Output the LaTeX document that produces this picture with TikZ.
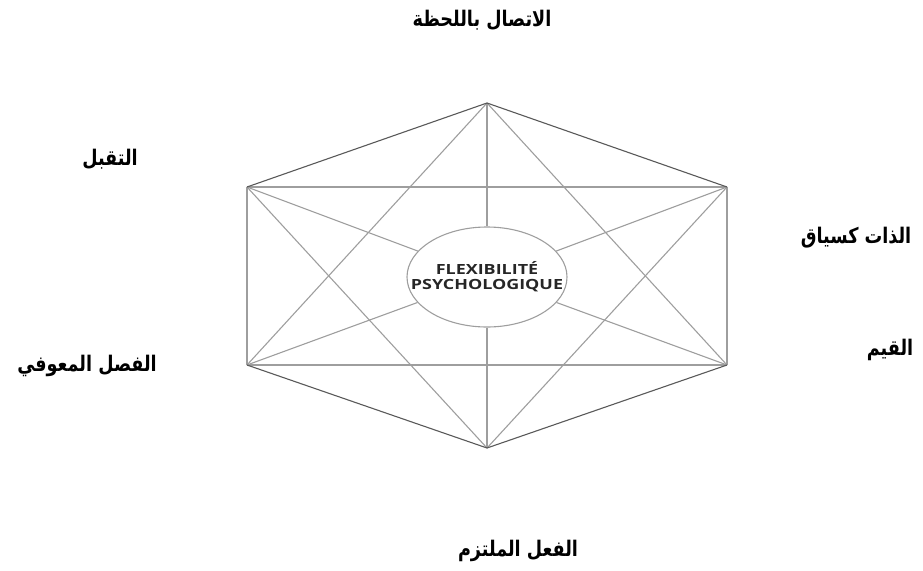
\documentclass[tikz,border=0pt]{standalone}
\usepackage{fontspec}
\usetikzlibrary{shapes.geometric}
\TeXXeTstate=1
\newfontfamily\arabicfont[Script=Arabic,FakeStretch=0.82]{DejaVu Sans}
\newfontfamily\latinsans[FakeStretch=1.28]{Open Sans}
\definecolor{lineg}{gray}{0.62}
\definecolor{edgeg}{gray}{0.35}
\newcommand{\zb}[1]{\makebox[0pt][c]{#1}}
\tikzset{
  inner/.style={draw=lineg, line width=1.1pt},
  outer/.style={draw=edgeg, line width=1.1pt},
  lbl/.style={font=\arabicfont\bfseries\fontsize{21.5}{24}\selectfont, text=black, inner sep=0pt},
  core/.style={ellipse, draw=lineg, line width=1.1pt, minimum width=160pt, minimum height=100pt, inner sep=0pt, align=center, font=\latinsans\bfseries\fontsize{14}{15}\selectfont, text=black!85}
}
\begin{document}
\begin{tikzpicture}[x=1pt,y=-1pt]
\useasboundingbox (0,0) rectangle (923,570);
\coordinate (T) at (487,103);
\coordinate (UL) at (247,187);
\coordinate (UR) at (727,187);
\coordinate (LL) at (247,365);
\coordinate (LR) at (727,365);
\coordinate (B) at (487,448);
\node[core] (e) at (487,277) {\zb{FLEXIBILITÉ}\\\zb{PSYCHOLOGIQUE}};
% rectangle
\draw[inner] (UL) -- (UR);
\draw[inner] (LL) -- (LR);
\draw[inner] (UL) -- (LL);
\draw[inner] (UR) -- (LR);
% triangles
\draw[inner] (T) -- (LL);
\draw[inner] (T) -- (LR);
\draw[inner] (B) -- (UL);
\draw[inner] (B) -- (UR);
% spokes
\draw[inner] (T) -- (e);
\draw[inner] (B) -- (e);
\draw[inner] (UL) -- (e);
\draw[inner] (UR) -- (e);
\draw[inner] (LL) -- (e);
\draw[inner] (LR) -- (e);
% hexagon outer edges
\draw[outer] (T) -- (UL);
\draw[outer] (T) -- (UR);
\draw[outer] (B) -- (LL);
\draw[outer] (B) -- (LR);
% labels
\node[lbl] (l1) at (482,20) {\beginR الاتصال باللحظة\endR};
\node[lbl] (l2) at (110,159) {\beginR التقبل\endR};
\node[lbl] (l3) at (856,238) {\beginR الذات كسياق\endR};
\node[lbl] (l4) at (890,350) {\beginR القيم\endR};
\node[lbl] (l5) at (87,366) {\beginR الفصل المعوفي\endR};
\node[lbl] (l6) at (518,551) {\beginR الفعل الملتزم\endR};
\end{tikzpicture}
\end{document}
